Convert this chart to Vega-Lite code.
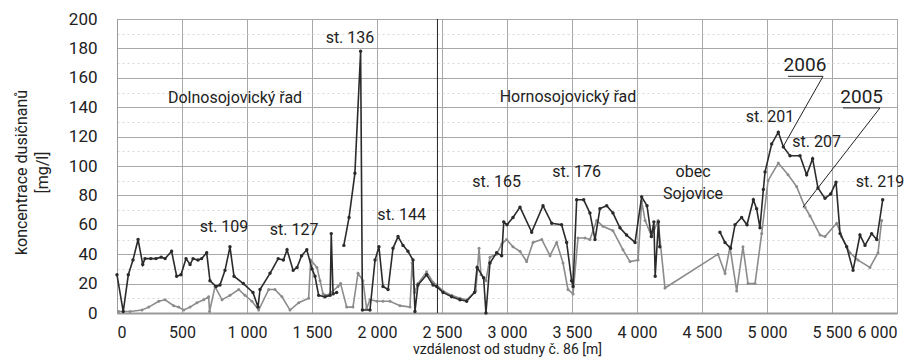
{
  "$schema": "https://vega.github.io/schema/vega-lite/v6.json",
  "width": 780,
  "height": 294,
  "autosize": {"type": "none"},
  "padding": {"left": 117, "top": 19, "right": 22, "bottom": 50},
  "background": "white",
  "config": {
    "font": "Roboto",
    "view": {"stroke": "#9a9a9a", "strokeWidth": 1}
  },
  "datasets": {
    "r2006": [
      {"d":0,"c":26},{"d":48,"c":1},{"d":87,"c":26},{"d":123,"c":36},{"d":162,"c":50},{"d":198,"c":33},{"d":215,"c":37},{"d":260,"c":37},{"d":300,"c":37},{"d":340,"c":38},{"d":370,"c":37},{"d":420,"c":42},{"d":459,"c":25},{"d":492,"c":26},{"d":531,"c":37},{"d":562,"c":33},{"d":585,"c":37},{"d":623,"c":36},{"d":651,"c":37},{"d":690,"c":41},{"d":715,"c":22},{"d":762,"c":18},{"d":792,"c":19},{"d":831,"c":29},{"d":869,"c":45},{"d":900,"c":25},{"d":972,"c":20},{"d":1046,"c":14},{"d":1085,"c":4},{"d":1100,"c":16},{"d":1177,"c":27},{"d":1240,"c":37},{"d":1280,"c":36},{"d":1308,"c":43},{"d":1355,"c":29},{"d":1385,"c":31},{"d":1420,"c":39},{"d":1460,"c":43},{"d":1500,"c":30},{"d":1523,"c":25},{"d":1551,"c":12},{"d":1600,"c":11},{"d":1640,"c":12},{"d":1648,"c":54},{"d":1662,"c":13},{"d":1690,"c":14},{"d":1715,"c":null},{"d":1745,"c":46},{"d":1785,"c":65},{"d":1830,"c":95},{"d":1874,"c":178},{"d":1888,"c":2},{"d":1946,"c":2},{"d":1985,"c":36},{"d":2015,"c":45},{"d":2046,"c":18},{"d":2085,"c":16},{"d":2123,"c":44},{"d":2162,"c":52},{"d":2200,"c":46},{"d":2238,"c":42},{"d":2277,"c":36},{"d":2292,"c":1},{"d":2315,"c":19},{"d":2382,"c":26},{"d":2431,"c":19},{"d":2459,"c":18},{"d":2508,"c":14},{"d":2574,"c":11},{"d":2638,"c":9},{"d":2690,"c":8},{"d":2750,"c":14},{"d":2770,"c":31},{"d":2820,"c":24},{"d":2838,"c":0},{"d":2869,"c":34},{"d":2920,"c":41},{"d":2959,"c":39},{"d":2975,"c":62},{"d":3000,"c":60},{"d":3046,"c":65},{"d":3100,"c":72},{"d":3190,"c":55},{"d":3277,"c":73},{"d":3344,"c":61},{"d":3420,"c":60},{"d":3459,"c":48},{"d":3497,"c":22},{"d":3508,"c":18},{"d":3536,"c":77},{"d":3590,"c":77},{"d":3638,"c":68},{"d":3677,"c":50},{"d":3715,"c":71},{"d":3767,"c":73},{"d":3815,"c":68},{"d":3869,"c":58},{"d":3920,"c":53},{"d":3985,"c":48},{"d":4036,"c":79},{"d":4077,"c":73},{"d":4110,"c":52},{"d":4130,"c":62},{"d":4140,"c":25},{"d":4165,"c":62},{"d":4175,"c":45},{"d":4400,"c":null},{"d":4638,"c":55},{"d":4677,"c":48},{"d":4720,"c":44},{"d":4754,"c":60},{"d":4805,"c":65},{"d":4846,"c":60},{"d":4895,"c":77},{"d":4920,"c":71},{"d":4946,"c":58},{"d":4972,"c":84},{"d":4985,"c":96},{"d":5036,"c":115},{"d":5087,"c":123},{"d":5126,"c":113},{"d":5177,"c":107},{"d":5254,"c":107},{"d":5305,"c":94},{"d":5351,"c":105},{"d":5392,"c":85},{"d":5446,"c":78},{"d":5490,"c":81},{"d":5531,"c":89},{"d":5562,"c":54},{"d":5613,"c":45},{"d":5662,"c":29},{"d":5715,"c":53},{"d":5754,"c":46},{"d":5805,"c":54},{"d":5844,"c":50},{"d":5890,"c":77}
    ],
    "r2005": [
      {"d":13,"c":1},{"d":100,"c":1},{"d":192,"c":2},{"d":244,"c":4},{"d":321,"c":8},{"d":370,"c":9},{"d":436,"c":5},{"d":474,"c":4},{"d":513,"c":2},{"d":562,"c":4},{"d":615,"c":7},{"d":667,"c":9},{"d":705,"c":11},{"d":712,"c":1},{"d":754,"c":18},{"d":808,"c":9},{"d":869,"c":12},{"d":936,"c":16},{"d":985,"c":12},{"d":1038,"c":8},{"d":1090,"c":2},{"d":1167,"c":16},{"d":1215,"c":16},{"d":1269,"c":11},{"d":1331,"c":2},{"d":1398,"c":7},{"d":1474,"c":10},{"d":1490,"c":36},{"d":1538,"c":31},{"d":1562,"c":22},{"d":1585,"c":13},{"d":1620,"c":12},{"d":1700,"c":18},{"d":1720,"c":20},{"d":1767,"c":4},{"d":1815,"c":4},{"d":1854,"c":27},{"d":1892,"c":22},{"d":1920,"c":3},{"d":1946,"c":9},{"d":2000,"c":8},{"d":2046,"c":8},{"d":2100,"c":8},{"d":2177,"c":5},{"d":2254,"c":4},{"d":2270,"c":34},{"d":2290,"c":14},{"d":2315,"c":20},{"d":2382,"c":28},{"d":2431,"c":21},{"d":2459,"c":19},{"d":2508,"c":15},{"d":2574,"c":12},{"d":2638,"c":10},{"d":2690,"c":9},{"d":2760,"c":15},{"d":2785,"c":44},{"d":2800,"c":26},{"d":2838,"c":22},{"d":2869,"c":38},{"d":2920,"c":40},{"d":2960,"c":47},{"d":2997,"c":50},{"d":3046,"c":45},{"d":3100,"c":42},{"d":3151,"c":35},{"d":3200,"c":48},{"d":3267,"c":50},{"d":3331,"c":39},{"d":3382,"c":48},{"d":3431,"c":34},{"d":3469,"c":16},{"d":3508,"c":13},{"d":3546,"c":51},{"d":3600,"c":51},{"d":3638,"c":50},{"d":3690,"c":63},{"d":3738,"c":59},{"d":3815,"c":56},{"d":3892,"c":43},{"d":3946,"c":35},{"d":4008,"c":36},{"d":4036,"c":76},{"d":4062,"c":63},{"d":4113,"c":52},{"d":4162,"c":63},{"d":4215,"c":17},{"d":4623,"c":40},{"d":4677,"c":27},{"d":4715,"c":45},{"d":4767,"c":15},{"d":4815,"c":45},{"d":4854,"c":20},{"d":4908,"c":20},{"d":4959,"c":54},{"d":5008,"c":90},{"d":5087,"c":102},{"d":5162,"c":94},{"d":5228,"c":86},{"d":5292,"c":72},{"d":5331,"c":66},{"d":5408,"c":53},{"d":5446,"c":52},{"d":5536,"c":61},{"d":5574,"c":52},{"d":5638,"c":41},{"d":5700,"c":36},{"d":5792,"c":31},{"d":5854,"c":41},{"d":5882,"c":63}
    ],
    "labels": [
      {"d":1792,"c":187,"t":"st. 136"},
      {"d":908,"c":146,"t":"Dolnosojovický řad"},
      {"d":823,"c":58.5,"t":"st. 109"},
      {"d":1362,"c":56.5,"t":"st. 127"},
      {"d":2190,"c":67,"t":"st. 144"},
      {"d":3469,"c":147,"t":"Hornosojovický řad"},
      {"d":2920,"c":89,"t":"st. 165"},
      {"d":3536,"c":96,"t":"st. 176"},
      {"d":4431,"c":96,"t":"obec"},
      {"d":4431,"c":81,"t":"Sojovice"},
      {"d":5023,"c":133.5,"t":"st. 201"},
      {"d":5382,"c":116.5,"t":"st. 207"},
      {"d":5869,"c":89,"t":"st. 219"}
    ],
    "years": [
      {"d":5292,"c":169,"t":"2006"},
      {"d":5728,"c":147,"t":"2005"}
    ],
    "leaders": [
      {"d":5162,"c":161,"d2":5431,"c2":161},
      {"d":5431,"c":161,"d2":5123,"c2":113},
      {"d":5585,"c":139.5,"d2":5869,"c2":139.5},
      {"d":5869,"c":139.5,"d2":5277,"c2":72},
      {"d":2465,"c":0,"d2":2465,"c2":200}
    ]
  },
  "encoding": {
    "x": {"field": "d", "type": "quantitative",
      "scale": {"domain": [0, 6000], "nice": false},
      "axis": {
        "values": [0,500,1000,1500,2000,2500,3000,3500,4000,4500,5000,5500,6000],
        "labelExpr": "replace(format(datum.value, ','), ',', ' ')",
        "labelOverlap": false,
        "ticks": false, "labelPadding": 11, "labelFontSize": 16, "labelColor": "#222",
        "domainColor": "#9a9a9a", "domainWidth": 2,
        "gridColor": "#a8a8a8", "gridWidth": 1,
        "title": "vzdálenost od studny č. 86 [m]",
        "titleFontSize": 14, "titleFontWeight": "normal", "titleColor": "#222",
        "titleBaseline": "top", "titleX": 390, "titleY": 29
      }
    },
    "y": {"field": "c", "type": "quantitative",
      "scale": {"domain": [0, 200], "nice": false},
      "axis": {
        "values": [0,10,20,30,40,50,60,70,80,90,100,110,120,130,140,150,160,170,180,190,200],
        "labelExpr": "datum.value % 20 === 0 ? datum.label : ''",
        "labelOverlap": false,
        "ticks": false, "labelPadding": 20, "labelFontSize": 17, "labelColor": "#222",
        "domainColor": "#9a9a9a",
        "gridColor": {"condition": {"test": "datum.value % 20 === 0", "value": "#a8a8a8"}, "value": "#d8d8d8"},
        "gridDash": {"condition": {"test": "datum.value % 20 === 0", "value": []}, "value": [2, 3]},
        "title": ["koncentrace dusičnanů", "[mg/l]"],
        "titleFontSize": 16, "titleFontWeight": "normal", "titleColor": "#222",
        "titleLineHeight": 21, "titleBaseline": "bottom", "titleAngle": -90,
        "titleX": -88, "titleY": 153
      }
    }
  },
  "layer": [
    {
      "data": {"name": "r2005"},
      "mark": {"type": "line", "color": "#8c8c8c", "strokeWidth": 1.6, "point": {"filled": true, "size": 9, "color": "#8c8c8c"}}
    },
    {
      "data": {"name": "r2006"},
      "mark": {"type": "line", "color": "#2b2b2b", "strokeWidth": 1.6, "point": {"filled": true, "size": 12, "color": "#2b2b2b"}}
    },
    {
      "data": {"name": "leaders"},
      "mark": {"type": "rule", "color": "#222", "strokeWidth": 1},
      "encoding": {
        "x2": {"field": "d2"},
        "y2": {"field": "c2"}
      }
    },
    {
      "data": {"name": "labels"},
      "mark": {"type": "text", "fontSize": 16, "color": "#222", "align": "center", "baseline": "middle"},
      "encoding": {
        "text": {"field": "t"}
      }
    },
    {
      "data": {"name": "years"},
      "mark": {"type": "text", "fontSize": 19, "color": "#222", "align": "center", "baseline": "middle"},
      "encoding": {
        "text": {"field": "t"}
      }
    }
  ]
}
